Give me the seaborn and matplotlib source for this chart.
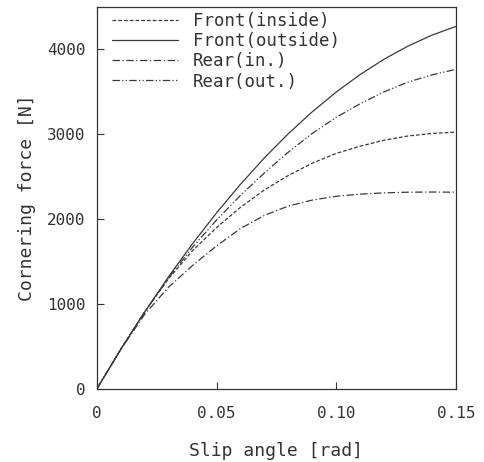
import numpy as np
import pandas as pd
import matplotlib
matplotlib.use("Agg")
import matplotlib.pyplot as plt
import seaborn as sns

# slip angle [rad]
slip = [0.00, 0.01, 0.02, 0.03, 0.04, 0.05, 0.06, 0.07,
        0.08, 0.09, 0.10, 0.11, 0.12, 0.13, 0.14, 0.15]

# cornering force [N]
front_inside = [0, 470, 910, 1300, 1630, 1900, 2140, 2345,
                2515, 2660, 2775, 2860, 2930, 2980, 3010, 3025]
front_outside = [0, 467, 908, 1323, 1712, 2074, 2411, 2722,
                 3007, 3265, 3498, 3704, 3885, 4039, 4168, 4270]
rear_in = [0, 465, 880, 1200, 1455, 1685, 1890, 2045,
           2155, 2225, 2270, 2295, 2310, 2318, 2320, 2318]
rear_out = [0, 467, 905, 1310, 1670, 1990, 2280, 2545,
            2790, 3010, 3200, 3360, 3500, 3615, 3700, 3765]

series_names = ["Front(inside)", "Front(outside)", "Rear(in.)", "Rear(out.)"]
series_values = [front_inside, front_outside, rear_in, rear_out]

x_ticks = [0, 0.05, 0.10, 0.15]
x_tick_labels = ["0", "0.05", "0.10", "0.15"]
y_ticks = [0, 1000, 2000, 3000, 4000]

df = pd.concat(
    [pd.DataFrame({"slip": slip, "force": v, "tire": n})
     for n, v in zip(series_names, series_values)],
    ignore_index=True,
)

sns.set_style("ticks")
plt.rcParams["font.family"] = ["DejaVu Sans Mono", "DejaVu Sans"]
ink = "#333333"

fig = plt.figure(figsize=(4.84, 4.62), dpi=100)
ax = fig.add_axes([0.200, 0.158, 0.742, 0.827])

dashes = {
    "Front(inside)": (3, 1.6),
    "Front(outside)": "",
    "Rear(in.)": (6, 2, 1, 2),
    "Rear(out.)": (6, 1.8, 1, 1.8, 1, 1.8),
}
sns.lineplot(data=df, x="slip", y="force", style="tire", dashes=dashes,
             style_order=series_names, color="#3a3a3a", linewidth=0.9, ax=ax)

ax.set_xlim(0, 0.15)
ax.set_ylim(0, 4500)
ax.set_xticks(x_ticks)
ax.set_xticklabels(x_tick_labels)
ax.set_yticks(y_ticks)
ax.tick_params(direction="in", length=5, width=0.8, color=ink,
               labelsize=11.5, labelcolor=ink)
ax.tick_params(axis="x", pad=12)
ax.tick_params(axis="y", pad=8)
for s in ax.spines.values():
    s.set_color(ink)
    s.set_linewidth(0.9)

ax.set_xlabel("Slip angle [rad]", fontsize=13, color=ink, labelpad=15)
ax.set_ylabel("Cornering force [N]", fontsize=13, color=ink, labelpad=8)

leg = ax.legend(loc="upper left", bbox_to_anchor=(0.032, 0.995), frameon=False,
                fontsize=12.5, handlelength=3.8, handletextpad=0.86,
                labelspacing=0.12, borderpad=0.2, borderaxespad=0.0,
                labelcolor=ink)

fig.savefig("out.png", dpi=100)
